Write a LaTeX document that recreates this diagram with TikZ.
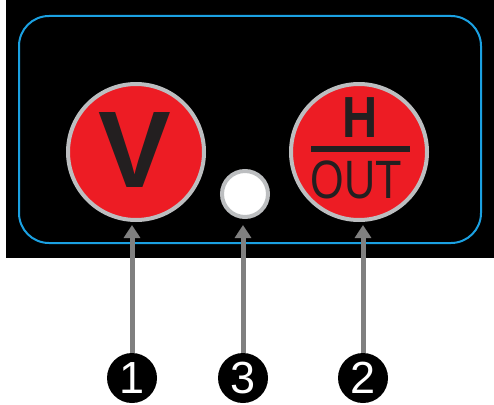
\documentclass[tikz,border=0pt]{standalone}
\usepackage{fontspec}
\setmainfont{Liberation Sans}
\usetikzlibrary{arrows.meta}
\definecolor{btnred}{HTML}{ED1C24}
\definecolor{ringgray}{HTML}{BCBEC0}
\definecolor{panelblue}{HTML}{1BA1E2}
\definecolor{inkdark}{HTML}{231F20}
\definecolor{arrowgray}{HTML}{808080}
\begin{document}
\begin{tikzpicture}[x=1pt,y=-1pt,
  button/.style={circle,fill=btnred,draw=ringgray,line width=4pt,minimum size=136pt,inner sep=0pt},
  lamp/.style={circle,fill=white,draw=ringgray,line width=4pt,minimum size=46pt,inner sep=0pt},
  numdot/.style={circle,fill=black,minimum size=50pt,inner sep=0pt,text=white,font=\fontsize{45}{45}\selectfont},
  pointer/.style={draw=arrowgray,line width=5pt,-{Triangle[width=16pt,length=13pt]}},
  lbl/.style={inner sep=0pt,text=inkdark}]
\useasboundingbox (0,0) rectangle (494,404);
\fill[white] (0,0) rectangle (494,404);
\fill[black] (6,0) rectangle (494,258);
\draw[panelblue,line width=2pt,rounded corners=30pt] (19,16) rectangle (481,243);
\node[button] (v) at (136,152) {};
\node[button] (h) at (359,152) {};
\node[lamp] (l) at (245,194) {};
\node[lbl,font=\fontsize{109}{109}\selectfont\bfseries] (vt) at (135,150.5) {V};
\node[lbl,font=\fontsize{58}{58}\selectfont\bfseries,xscale=0.84] (ht) at (360,117.5) {H};
\node[lbl,font=\fontsize{54}{54}\selectfont,xscale=0.8] (ot) at (356.5,180) {OUT};
\draw[inkdark,line width=6pt] (311,149) -- (410,149);
\node[numdot] (n1) at (132,378) {1};
\node[numdot] (n3) at (243,378) {3};
\node[numdot] (n2) at (363,378) {2};
\coordinate (t1) at (132,225);
\coordinate (t3) at (243,225);
\coordinate (t2) at (363,225);
\draw[pointer] (n1.north) -- (t1);
\draw[pointer] (n3.north) -- (t3);
\draw[pointer] (n2.north) -- (t2);
\end{tikzpicture}
\end{document}
